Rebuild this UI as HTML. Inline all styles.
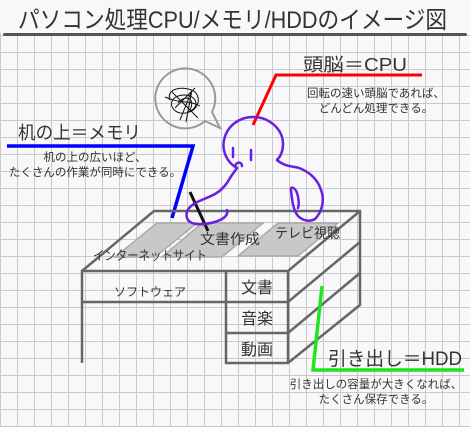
<!DOCTYPE html>
<html><head><meta charset="utf-8"><style>
html,body{margin:0;padding:0;background:#f8f8fa}
svg{display:block}
text{font-family:"Liberation Sans","Noto Sans CJK JP",sans-serif;fill:#333}
</style></head><body>
<svg width="470" height="427" viewBox="0 0 470 427" xmlns="http://www.w3.org/2000/svg">
<defs>
<pattern id="g" width="17" height="17" patternUnits="userSpaceOnUse" x="0" y="1">
<path d="M0 0.5H17M0.5 0V17" stroke="#c9c9cc" stroke-width="1" fill="none"/>
</pattern>
</defs>
<rect width="470" height="427" fill="#f8f8fa"/>
<rect width="470" height="427" fill="url(#g)"/>
<rect x="0" y="0" width="470" height="33" fill="#f8f8fa"/>
<text x="18" y="28" font-size="24" fill="#333" textLength="429" lengthAdjust="spacingAndGlyphs">パソコン処理CPU/メモリ/HDDのイメージ図</text>
<rect x="3" y="33" width="464" height="3" rx="1.5" fill="#555"/>

<!-- CPU -->
<text x="303" y="71" font-size="18" textLength="104" lengthAdjust="spacingAndGlyphs">頭脳＝CPU</text>
<polyline points="253,125 276,75 422,75" fill="none" stroke="#f00" stroke-width="3"/>
<text x="376" y="97" font-size="11.5" text-anchor="middle">回転の速い頭脳であれば、</text>
<text x="376" y="112" font-size="11.5" text-anchor="middle">どんどん処理できる。</text>

<!-- bubble -->
<path d="M205,121 A30,30 0 1 1 212,112 L220,128 Z" fill="none" stroke="#999" stroke-width="2"/>
<path d="M170,100 C165,88 185,85 195,92 C203,100 196,115 180,113 C168,110 168,95 185,95 C198,96 200,108 188,112 M175,108 L195,88 M180,120 L192,90 L186,122 M165,97 C180,104 190,100 200,106 M172,92 L198,118 M178,103 C185,94 196,98 190,110" fill="none" stroke="#111" stroke-width="1"/>

<!-- memory -->
<text x="18" y="139" font-size="18" textLength="123" lengthAdjust="spacingAndGlyphs">机の上＝メモリ</text>
<polyline points="7,146 193,146 172,218" fill="none" stroke="#00f" stroke-width="3.5"/>
<text x="95" y="161" font-size="11.5" text-anchor="middle">机の上の広いほど、</text>
<text x="95" y="176" font-size="11.5" text-anchor="middle">たくさんの作業が同時にできる。</text>

<!-- desk -->
<g fill="none" stroke="#666" stroke-width="2.5">
<path d="M82,271 L154,211 L360,211 L360,305 L288,363 L226,363 L226,271"/>
<path d="M82,363 L82,271 L288,271 L360,211"/>
<path d="M288,271 L288,363"/>
<path d="M82,302 L288,302 L360,242"/>
<path d="M226,333 L288,333 L360,273"/>
</g>
<g fill="#c8c8c8" stroke="#aaa" stroke-width="1.5">
<polygon points="115,257 157,223 197,223 155,257"/>
<polygon points="162,257 202,223 263,223 222,257"/>
<polygon points="238,256 278,223 338,223 298,256"/>
</g>
<text x="93" y="260" font-size="13" textLength="114" lengthAdjust="spacingAndGlyphs">インターネットサイト</text>
<text x="200" y="244" font-size="14" textLength="60" lengthAdjust="spacingAndGlyphs">文書作成</text>
<text x="275" y="238" font-size="14" textLength="65" lengthAdjust="spacingAndGlyphs">テレビ視聴</text>
<text x="150" y="296" font-size="12" text-anchor="middle">ソフトウェア</text>
<text x="257" y="293" font-size="16" text-anchor="middle">文書</text>
<text x="257" y="324" font-size="16" text-anchor="middle">音楽</text>
<text x="257" y="355" font-size="16" text-anchor="middle">動画</text>

<!-- pen -->
<line x1="190" y1="192" x2="208" y2="231" stroke="#111" stroke-width="3"/>

<!-- person -->
<g fill="none" stroke="#6a1ee0" stroke-width="2.5" stroke-linecap="round">
<path d="M237,168 C226,162 222,150 224,140 C227,126 239,117 253,117 C269,117 283,129 283,144 C283,152 280,157 277,160"/>
<path d="M277,160 C285,167 293,166 299,168 C310,172 318,180 321,190 C325,200 322,212 315,219 C310,222 303,221 298,216 C293,210 292,200 291,190 C290,186 295,187 297,193 C299,198 299,205 298,208"/>
<path d="M237,168 C234,172 232,175 230,178 C226,185 222,190 215,194 C206,199 196,201 190,207 C185,212 185,220 192,223 C200,226 215,223 222,219 C227,216 228,213 227,210"/>
<path d="M233,148 L233,157 M251,150 L251,160"/>
<path d="M235,166 C237,161 242,162 242,166"/>
</g>

<!-- HDD -->
<polyline points="322,286 313,370 464,370" fill="none" stroke="#1ee61e" stroke-width="3.5"/>
<text x="328" y="365" font-size="19" textLength="134" lengthAdjust="spacingAndGlyphs">引き出し＝HDD</text>
<text x="376" y="388" font-size="11.5" text-anchor="middle">引き出しの容量が大きくなれば、</text>
<text x="376" y="403" font-size="11.5" text-anchor="middle">たくさん保存できる。</text>
</svg>
</body></html>
